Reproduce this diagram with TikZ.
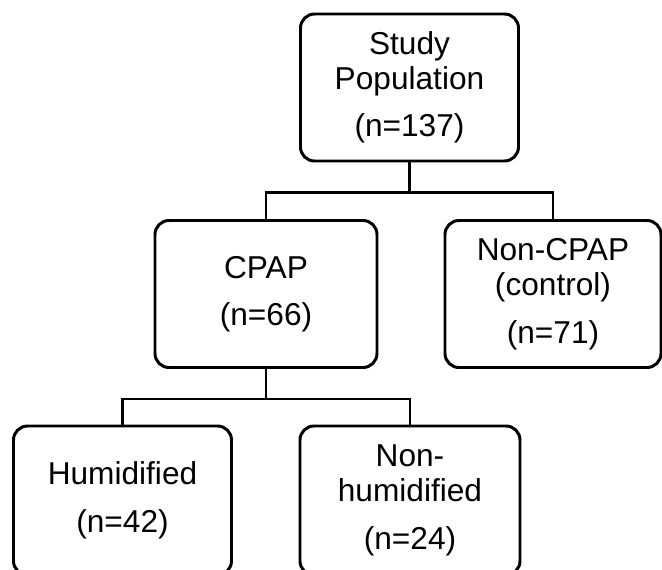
\documentclass[tikz,border=0pt]{standalone}
\usepackage{fontspec}
\setmainfont{Liberation Sans}
\usepackage{tikz}
\usetikzlibrary{positioning}

\tikzset{
	group/.style = {draw, black, line width = 1.7pt, rounded corners = 0.28cm, fill = white,
	minimum width = 4.36cm, minimum height = 2.94cm, align = center, inner sep = 0pt},
	link/.style = {draw, black, line width = 1.7pt}
}

\begin{document}
\begin{tikzpicture} [node distance = 4.13cm and 2.87cm, on grid, font=\fontsize{18}{20}\selectfont]
			% Page frame
			\useasboundingbox [fill = white] (-8.19,1.75) rectangle (5.05,-9.65);
			% Top Node : the other nodes are placed from this one
			\node (study) [group] {Study\\Population\\[7pt](n=137)};

			% Second row
			\node (cpap) [group, minimum width = 4.44cm, below left = of study] {CPAP\\[7pt](n=66)};
			\node (noncpap) [group, minimum width = 4.32cm, below right = of study] {Non-CPAP\\(control)\\[7pt](n=71)};

			% Third row
			\node (humid) [group, minimum height = 2.98cm, below left = 4.13cm and 2.87cm of cpap] {Humidified\\[7pt](n=42)};
			\node (nonhumid) [group, minimum width = 4.4cm, minimum height = 2.98cm, below right = 4.13cm and 2.88cm of cpap] {Non-\\humidified\\[7pt](n=24)};

			% Draw Connections
			\path [link]
			(study.south) -- ++(0,-0.6) -| (cpap.north)
			(study.south) -- ++(0,-0.6) -| (noncpap.north)
			(cpap.south) -- ++(0,-0.6) -| (humid.north)
			(cpap.south) -- ++(0,-0.6) -| (nonhumid.north);
		\end{tikzpicture}
\end{document}
